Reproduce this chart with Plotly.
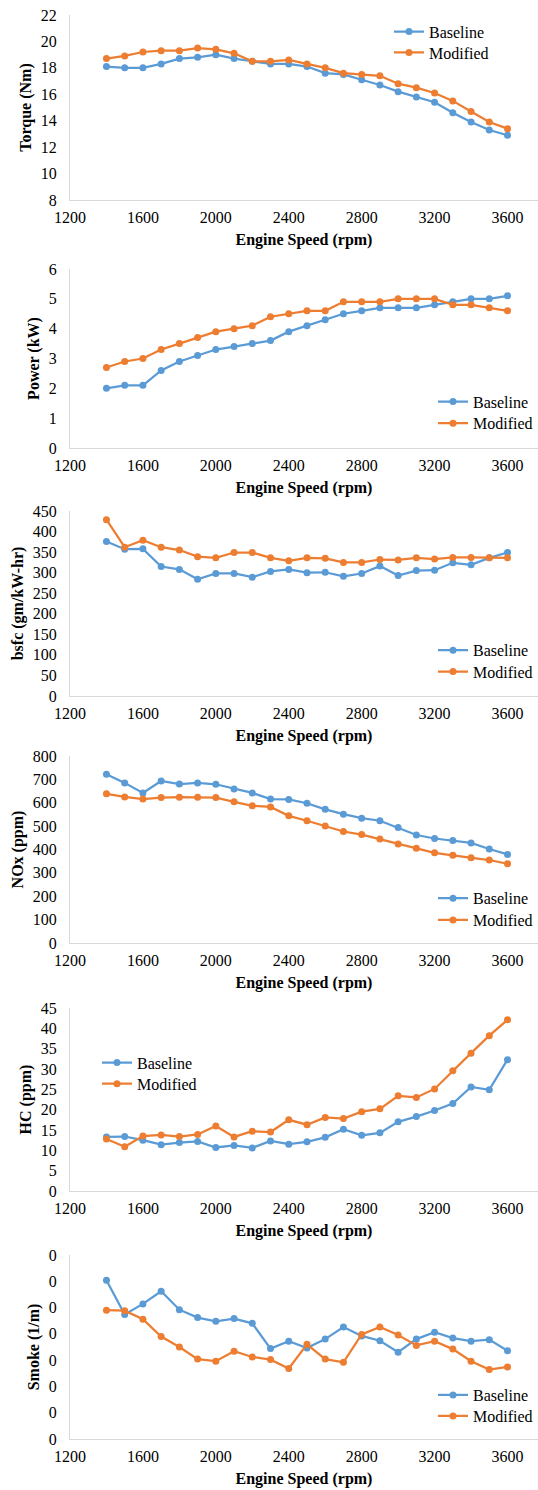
import plotly.graph_objects as go

speed = [1400, 1500, 1600, 1700, 1800, 1900, 2000, 2100, 2200, 2300, 2400, 2500,
         2600, 2700, 2800, 2900, 3000, 3100, 3200, 3300, 3400, 3500, 3600]

torque_base = [18.1, 18.0, 18.0, 18.3, 18.7, 18.8, 19.0, 18.7, 18.5, 18.3, 18.3, 18.1,
               17.6, 17.5, 17.1, 16.7, 16.2, 15.8, 15.4, 14.6, 13.9, 13.3, 12.9]
torque_mod = [18.7, 18.9, 19.2, 19.3, 19.3, 19.5, 19.4, 19.1, 18.5, 18.5, 18.6, 18.3,
              18.0, 17.6, 17.5, 17.4, 16.8, 16.5, 16.1, 15.5, 14.7, 13.9, 13.4]

power_base = [2.0, 2.1, 2.1, 2.6, 2.9, 3.1, 3.3, 3.4, 3.5, 3.6, 3.9, 4.1,
              4.3, 4.5, 4.6, 4.7, 4.7, 4.7, 4.8, 4.9, 5.0, 5.0, 5.1]
power_mod = [2.7, 2.9, 3.0, 3.3, 3.5, 3.7, 3.9, 4.0, 4.1, 4.4, 4.5, 4.6,
             4.6, 4.9, 4.9, 4.9, 5.0, 5.0, 5.0, 4.8, 4.8, 4.7, 4.6]

bsfc_base = [376, 357, 358, 315, 308, 284, 298, 298, 289, 303, 308, 300,
             301, 291, 298, 316, 293, 305, 306, 324, 319, 336, 349]
bsfc_mod = [429, 362, 379, 362, 355, 339, 336, 349, 349, 336, 329, 336,
            335, 325, 325, 332, 331, 336, 333, 337, 337, 336, 336]

nox_base = [722, 685, 642, 693, 680, 685, 679, 659, 642, 616, 614, 598,
            572, 551, 534, 523, 494, 462, 447, 439, 428, 402, 379]
nox_mod = [638, 625, 616, 622, 624, 624, 622, 604, 587, 582, 544, 523,
           501, 477, 464, 445, 423, 405, 386, 375, 365, 355, 339]

hc_base = [13.3, 13.4, 12.5, 11.4, 11.9, 12.2, 10.7, 11.2, 10.6, 12.3, 11.5, 12.1,
           13.2, 15.2, 13.7, 14.3, 17.0, 18.3, 19.8, 21.5, 25.6, 24.9, 32.3]
hc_mod = [12.8, 10.9, 13.5, 13.8, 13.4, 13.9, 16.0, 13.3, 14.7, 14.5, 17.5, 16.3,
          18.1, 17.8, 19.5, 20.2, 23.4, 23.0, 25.1, 29.6, 33.9, 38.2, 42.1]

smoke_base = [0.302, 0.237, 0.257, 0.281, 0.246, 0.231, 0.224, 0.229, 0.220, 0.172, 0.186, 0.173,
              0.190, 0.213, 0.196, 0.187, 0.165, 0.190, 0.203, 0.192, 0.186, 0.189, 0.168]
smoke_mod = [0.245, 0.244, 0.228, 0.195, 0.175, 0.152, 0.148, 0.167, 0.156, 0.151, 0.134, 0.180,
             0.152, 0.146, 0.199, 0.213, 0.198, 0.178, 0.186, 0.171, 0.148, 0.132, 0.137]

x_ticks = [1200, 1600, 2000, 2400, 2800, 3200, 3600]
series_names = ["Baseline", "Modified"]

panels = [
    # (title, base, mod, range, dtick, tickformat, top_px, bottom_px,
    #  legend text start x, legend row centres y)
    ("Torque (Nm)", torque_base, torque_mod, [8, 22], 2, None, 15, 200, 428, (31.7, 52.5)),
    ("Power (kW)", power_base, power_mod, [0, 6], 1, None, 269, 448, 472, (401.7, 423.3)),
    ("bsfc (gm/kW-hr)", bsfc_base, bsfc_mod, [0, 450], 50, None, 511, 696, 472, (650.3, 671.7)),
    ("NOx (ppm)", nox_base, nox_mod, [0, 800], 100, None, 756, 943, 472, (898.3, 920)),
    ("HC (ppm)", hc_base, hc_mod, [0, 45], 5, None, 1008, 1191, 136, (1062.7, 1083.8)),
    ("Smoke (1/m)", smoke_base, smoke_mod, [0, 0.35], 0.05, ".0f", 1255, 1439, 472, (1395, 1416)),
]

W, H = 538, 1490
colors = ["#5B9BD5", "#ED7D31"]
FAM = "Liberation Serif"

def f(size=16):
    return dict(family=FAM, size=size, color="#000000")

fig = go.Figure()
layout = dict(
    width=W, height=H,
    margin=dict(l=0, r=0, t=0, b=0, autoexpand=False),
    paper_bgcolor="white", plot_bgcolor="white",
    font=f(),
)

AX_L = 70.0
X_PER_PX = 2400 / 437.5
x_max = 1200 + (W - AX_L) * X_PER_PX
lg_count = 0
for i, (title, base, mod, yr, dt, tf, top, bot, tx, rows) in enumerate(panels):
    n = i + 1
    xa = "x" if n == 1 else f"x{n}"
    ya = "y" if n == 1 else f"y{n}"
    for j, (vals, name) in enumerate(zip([base, mod], series_names)):
        lg_count += 1
        lg = "legend" if lg_count == 1 else f"legend{lg_count}"
        fig.add_trace(go.Scatter(
            x=speed, y=vals, name=name, mode="lines+markers",
            line=dict(color=colors[j], width=2.25),
            marker=dict(color=colors[j], size=7),
            xaxis=xa, yaxis=ya, legend=lg, showlegend=True,
        ))
        layout[lg] = dict(
            x=(tx - 39) / W, y=1 - (rows[j] - 17) / H, xanchor="left", yanchor="top",
            bgcolor="rgba(0,0,0,0)", borderwidth=0, font=f(), itemwidth=30,
        )
    xkey = "xaxis" if n == 1 else f"xaxis{n}"
    ykey = "yaxis" if n == 1 else f"yaxis{n}"
    layout[xkey] = dict(
        domain=[AX_L / W, 1], anchor=ya, range=[1200, x_max],
        tickvals=x_ticks, showgrid=False, zeroline=False,
        showline=True, linecolor="#D9D9D9", linewidth=1,
        ticks="outside", ticklen=0, ticklabelstandoff=3, tickfont=f(),
        title=dict(text="<b>Engine Speed (rpm)</b>", font=f(), standoff=8),
    )
    ykw = dict(
        domain=[1 - bot / H, 1 - top / H], anchor=xa, range=yr, dtick=dt,
        tick0=0, showgrid=False, zeroline=False,
        showline=True, linecolor="#D9D9D9", linewidth=1,
        ticks="outside", ticklen=0, ticklabelstandoff=9, tickfont=f(),
        title=dict(text=f"<b>{title}</b>", font=f(), standoff=5),
    )
    if tf:
        ykw["tickformat"] = tf
    layout[ykey] = ykw

fig.update_layout(**layout)
fig.write_html(
    "out.html",
    config={"displayModeBar": False},
    post_script="document.body.style.margin='0';document.body.style.overflow='hidden';",
)
